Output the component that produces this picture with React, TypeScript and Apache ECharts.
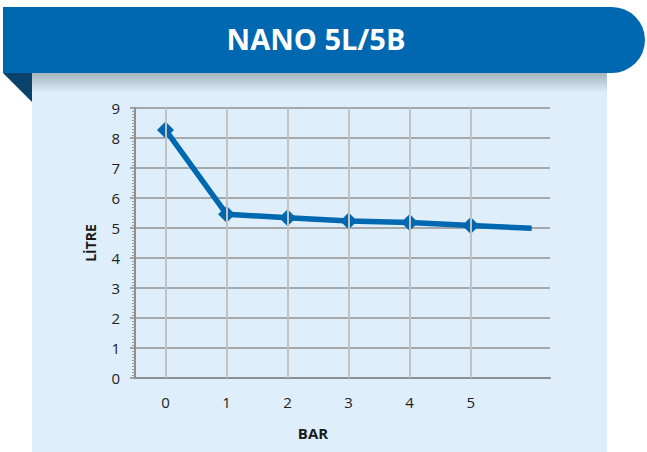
import React, { useEffect, useRef } from "react";
import * as echarts from "echarts";

const title = "NANO 5L/5B";
const xTitle = "BAR";
const yTitle = "LİTRE";
const barValues = [0, 1, 2, 3, 4, 5, 6];
const litreValues = [8.27, 5.46, 5.34, 5.23, 5.18, 5.08, 4.99];
const xTickLabels = [0, 1, 2, 3, 4, 5];

const FONT = "'Open Sans', 'DejaVu Sans', sans-serif";

export default function App() {
  const ref = useRef<HTMLDivElement>(null);
  useEffect(() => {
    if (!ref.current) return;
    const chart = echarts.init(ref.current, null, { renderer: "svg" });
    const data = barValues.map((x, i) =>
      i === barValues.length - 1
        ? { value: [x, litreValues[i]], symbol: "none" }
        : { value: [x, litreValues[i]] }
    );
    chart.setOption({
      animation: false,
      backgroundColor: "#ffffff",
      grid: { left: 135, right: 97, top: 108, bottom: 74 },
      graphic: [
        { type: "rect", z: -10, shape: { x: 32, y: 73, width: 575, height: 379 }, style: { fill: "#DEEFFB" } },
        {
          type: "rect", z: -9, shape: { x: 32, y: 73, width: 575, height: 20 },
          style: {
            fill: new echarts.graphic.LinearGradient(0, 0, 0, 1, [
              { offset: 0, color: "rgba(60,70,80,0.35)" },
              { offset: 1, color: "rgba(60,70,80,0)" },
            ]),
          },
        },
        { type: "polygon", z: 10, shape: { points: [[3, 73], [32, 73], [32, 102]] }, style: { fill: "#0B426C" } },
        { type: "rect", z: 10, shape: { x: 3, y: 7, width: 642, height: 66, r: [0, 33, 33, 0] }, style: { fill: "#0067B1" } },
        {
          type: "text", z: 11, x: 316, y: 38,
          style: { text: title, fill: "#ffffff", font: `bold 29px ${FONT}`, align: "center", verticalAlign: "middle" },
        },
        {
          type: "text", z: 11, x: 313, y: 433,
          style: { text: xTitle, fill: "#1a1a1a", font: `bold 15px ${FONT}`, align: "center", verticalAlign: "middle" },
        },
        {
          type: "text", z: 11, x: 90, y: 243, rotation: Math.PI / 2,
          style: { text: yTitle, fill: "#1a1a1a", font: `bold 14px ${FONT}`, align: "center", verticalAlign: "middle" },
        },
      ],
      xAxis: {
        type: "value",
        min: -0.5,
        max: 6.3,
        axisLine: { show: true, onZero: false, lineStyle: { color: "#8E8E8E", width: 2 } },
        axisTick: { show: false },
        splitLine: { show: false },
        axisLabel: {
          customValues: xTickLabels,
          color: "#222",
          fontFamily: FONT,
          fontSize: 15,
          margin: 16,
        },
      },
      yAxis: {
        type: "value",
        min: 0,
        max: 9,
        interval: 1,
        axisLine: { show: true, onZero: false, lineStyle: { color: "#8E8E8E", width: 2 } },
        axisTick: { show: true, length: 5, lineStyle: { color: "#8E8E8E", width: 1.5 } },
        minorTick: { show: true, splitNumber: 10, length: 3, lineStyle: { color: "#9A9A9A", width: 1 } },
        splitLine: { show: true, lineStyle: { color: "#929292", width: 1.5 } },
        axisLabel: { color: "#222", fontFamily: FONT, fontSize: 15, margin: 15 },
      },
      series: [
        {
          type: "line",
          z: 1,
          data: [],
          silent: true,
          markLine: {
            silent: true,
            symbol: ["none", "none"],
            label: { show: false },
            lineStyle: { color: "#C2C2C2", width: 2, type: "solid" },
            data: xTickLabels.map((v) => ({ xAxis: v })),
          },
        },
        {
          type: "line",
          z: 3,
          data,
          symbol: "diamond",
          symbolSize: 17,
          lineStyle: { color: "#0067B1", width: 5.5 },
          itemStyle: { color: "#0067B1" },
        },
      ],
    });
    return () => chart.dispose();
  }, []);
  return <div ref={ref} style={{ position: "fixed", left: 0, top: 0, width: 647, height: 452 }} />;
}
